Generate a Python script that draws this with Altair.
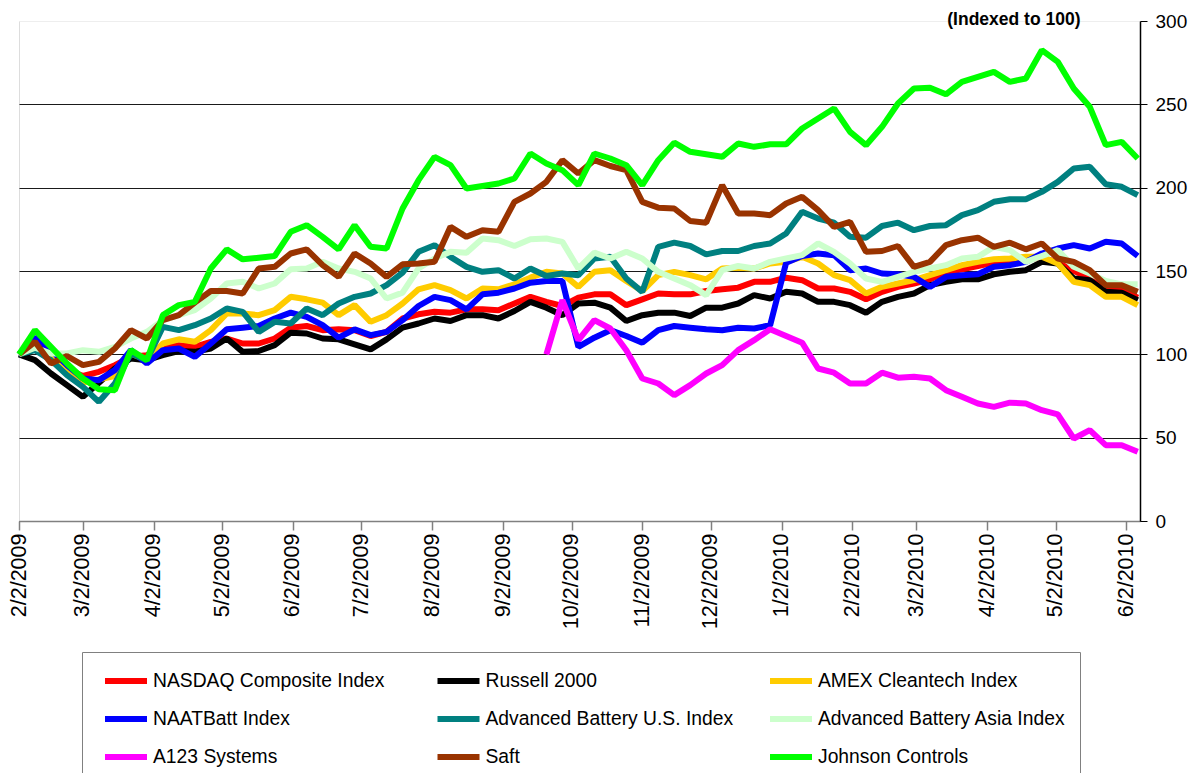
import altair as alt
import pandas as pd

START_DATE = "2009-02-02"
N_WEEKS = 71

SERIES = [
    "NASDAQ Composite Index", "Russell 2000", "AMEX Cleantech Index",
    "NAATBatt Index", "Advanced Battery U.S. Index", "Advanced Battery Asia Index",
    "A123 Systems", "Saft", "Johnson Controls",
]
COLORS = ["#FF0000", "#000000", "#FFCC00", "#0000FF", "#008080", "#CCFFCC",
          "#FF00FF", "#993300", "#00FF00"]

nasdaq = [100, 105, 98, 91, 87, 89.5, 93.5, 98.5, 99.5, 104.5, 105.5, 104.5, 107.5, 109.5, 106.5,
          106.5, 109.5, 116, 117, 114.5, 115, 114.5, 111, 113.5, 121.5, 124, 125.5, 125, 127, 127,
          126.5, 130.5, 134.5, 131.5, 129, 134, 136, 136, 129.5, 133, 136.5, 136, 136, 138, 139,
          140, 143.5, 143.5, 146, 144.5, 139.5, 139.5, 137.5, 133, 137.5, 140.5, 142.5, 145, 149,
          151, 153, 155, 156, 157, 158, 155, 150, 146, 139, 139, 134]
russell = [100, 96.5, 88.5, 81.5, 74.5, 83, 91.5, 97.5, 96.5, 99.5, 102, 101.5, 103.5, 109.5, 101.5,
           102, 105.5, 113, 112.5, 109.5, 109, 106, 103, 109, 116, 118.5, 121.5, 120, 123.5, 123.5,
           121.5, 126, 131.5, 128, 123.5, 130.5, 131, 128, 120, 123.5, 125, 125, 123, 128, 128,
           130.5, 135.5, 133.5, 137.5, 136.5, 131.5, 131.5, 129.5, 125, 131.5, 134.5, 136.5, 141.5,
           143.5, 145, 145, 148, 149.5, 150.5, 155.5, 154.5, 145.5, 144.5, 137.5, 137, 132.5]
amex = [100, 106, 98, 90, 83, 85, 87, 100.5, 96.5, 106.5, 109, 107.5, 114.5, 124.5, 124.5, 123.5,
        126.5, 134.5, 133, 131, 123.5, 129.5, 119.5, 123.5, 130.5, 139, 141.5, 138.5, 133.5, 139.5,
        139, 142, 146, 149.5, 148.5, 140.5, 149.5, 150.5, 144, 138, 147.5, 149.5, 147.5, 145, 151.5,
        152, 151.5, 154.5, 155.5, 158.5, 154.5, 147.5, 144.5, 136.5, 140.5, 142.5, 144.5, 147.5,
        150.5, 153.5, 155.5, 157, 157.5, 158.5, 158.5, 154.5, 143.5, 141.5, 134.5, 134.5, 129.5]
naatbatt = [100, 110, 102.5, 93.5, 85.5, 84.5, 90.5, 102.5, 94.5, 102.5, 103.5, 98.5, 106.5, 115,
            116, 117, 121.5, 125, 122.5, 117.5, 110, 115, 111.5, 113.5, 120.5, 129, 134.5, 132.5,
            127, 136, 137, 139.5, 143, 144, 144, 104.5, 110, 114.5, 111, 107, 114.5, 117, 116, 115,
            114.5, 116, 115.5, 117.5, 155, 159, 160.5, 159.5, 150.5, 151.5, 148.5, 148, 146.5, 140.5,
            146.5, 147.5, 148, 152.5, 153.5, 155.5, 160.5, 163.5, 165.5, 163.5, 167.5, 166.5, 159]
adv_us = [100, 102.5, 96.5, 87.5, 80.5, 71.5, 82.5, 100.5, 96.5, 116.5, 114.5, 117.5, 121.5, 127.5,
          125.5, 113.5, 119.5, 118.5, 127.5, 123.5, 130.5, 134.5, 136.5, 141.5, 149, 161.5, 165.5,
          158.5, 152.5, 149.5, 150.5, 145.5, 151.5, 147, 148.5, 147.5, 157.5, 158.5, 145.5, 137.5,
          164.5, 167, 165, 160, 162, 162, 165, 166.5, 172.5, 185.5, 181.5, 179, 170.5, 170, 177, 179,
          174.5, 177, 177.5, 183.5, 186.5, 191.5, 193, 193, 197.5, 203.5, 211.5, 212.5, 202, 200.5,
          195.5]
adv_asia = [100, 104, 100.5, 100.5, 102.5, 101.5, 104.5, 109.5, 113.5, 120.5, 123.5, 126.5, 133.5,
            142.5, 143.5, 139.5, 142.5, 151, 151.5, 155.5, 151.5, 149.5, 145.5, 133.5, 137, 151.5,
            157.5, 161.5, 161, 169.5, 168.5, 165, 169, 169.5, 167.5, 151.5, 161, 157.5, 161.5, 157.5,
            149.5, 145.5, 141.5, 135.5, 150.5, 153, 151.5, 155.5, 157.5, 159.5, 166.5, 161.5, 154.5,
            145.5, 143.5, 146.5, 149.5, 151.5, 153.5, 157.5, 158.5, 164.5, 162.5, 155.5, 159, 162.5,
            152.5, 148.5, 144, 142, 142]
a123 = [None] * 33 + [100, 132.5, 108.5, 120.5, 115.5, 102.5, 85.5, 82.5, 75.5, 81.5, 88.5, 93.5,
                      102.5, 108.5, 115, 111, 107, 91.5, 89, 82.5, 82.5, 89, 86, 86.5, 85.5, 78.5,
                      74.5, 70.5, 68.5, 71, 70.5, 66.5, 64, 49.5, 54.5, 45.5, 45.5, 41.5]
saft = [100, 107.5, 94.5, 99, 93.5, 95.5, 103.5, 114.5, 109.5, 120.5, 123.5, 131, 138, 138, 136.5,
        151.5, 152.5, 160.5, 163, 153.5, 146.5, 160.5, 154.5, 146.5, 154, 154.5, 155.5, 176.5, 170.5,
        174.5, 173.5, 191.5, 196.5, 203.5, 216.5, 208.5, 216.5, 213, 210.5, 191.5, 188, 187.5, 180,
        179, 201.5, 184.5, 184.5, 183.5, 190.5, 194.5, 186.5, 176.5, 179.5, 161.5, 162, 165, 152.5,
        155.5, 165.5, 168.5, 170, 164.5, 167, 163, 166.5, 157.5, 155.5, 150.5, 141.5, 141.5, 137.5]
johnson = [100, 114.5, 104.5, 94.5, 85.5, 79, 78.5, 102.5, 96.5, 123.5, 129.5, 131.5, 151.5, 163, 157,
           158, 159, 173.5, 177.5, 170.5, 163, 177.5, 164.5, 163.5, 187.5, 204.5, 218.5, 213.5, 199.5,
           201, 202.5, 205.5, 220.5, 214.5, 210.5, 201.5, 220.5, 217.5, 213.5, 201.5, 216.5, 227,
           221.5, 220, 218.5, 226.5, 224.5, 226, 226, 235.5, 241.5, 247.5, 233.5, 225.5, 236.5, 250.5,
           259.5, 260, 256, 263.5, 266.5, 269.5, 263.5, 265.5, 282.5, 275.5, 259.5, 248.5, 225.5,
           227.5, 217.5]

TICK_LABELS = ["2/2/2009", "3/2/2009", "4/2/2009", "5/2/2009", "6/2/2009", "7/2/2009",
               "8/2/2009", "9/2/2009", "10/2/2009", "11/2/2009", "12/2/2009", "1/2/2010",
               "2/2/2010", "3/2/2010", "4/2/2010", "5/2/2010", "6/2/2010"]
X_DOMAIN = ["2/2/2009", "6/8/2010"]
Y_TICKS = [0, 50, 100, 150, 200, 250, 300]
Y_TITLE = "(Indexed to 100)"

FONT = "Liberation Sans, Arial, Helvetica, sans-serif"

dates = pd.date_range(START_DATE, periods=N_WEEKS, freq="7D").strftime("%Y-%m-%d")
rows = []
for name, vals in zip(SERIES, [nasdaq, russell, amex, naatbatt, adv_us, adv_asia, a123, saft, johnson]):
    for d, v in zip(dates, vals):
        if v is not None:
            rows.append({"date": d, "series": name, "value": v})
df = pd.DataFrame(rows)


def to_dt(label):
    m, d, y = (int(p) for p in label.split("/"))
    return alt.DateTime(year=y, month=m, date=d, utc=True)


chart = alt.Chart(df).mark_line(strokeWidth=6, strokeJoin="bevel").encode(
    x=alt.X(
        "date:T",
        scale=alt.Scale(type="utc", domain=[to_dt(s) for s in X_DOMAIN]),
        axis=alt.Axis(
            values=[to_dt(s) for s in TICK_LABELS],
            labelExpr="utcFormat(datum.value, '%-m/%-d/%Y')",
            labelAngle=-90, labelAlign="right", labelBaseline="middle",
            labelFont=FONT, labelFontSize=21.5, labelColor="black",
            labelPadding=3, labelFlush=False, labelOverlap=False,
            tickSize=9, tickColor="#808080", tickWidth=1.5,
            domainColor="#808080", domainWidth=1.5, grid=False, title=None,
        ),
    ),
    y=alt.Y(
        "value:Q",
        scale=alt.Scale(domain=[0, 300], nice=False, zero=True),
        axis=alt.Axis(
            orient="right", values=Y_TICKS,
            labelFont=FONT, labelFontSize=19, labelColor="black", labelPadding=8,
            tickSize=7, tickColor="black", tickWidth=1, domainColor="black", domainWidth=1.5,
            grid=True, gridWidth=1,
            gridColor={"condition": {"test": "datum.value === 300", "value": "#eeeeee"}, "value": "#1a1a1a"},
            title=Y_TITLE, titleAngle=0, titleX=-60, titleY=3, titleAlign="right",
            titleBaseline="alphabetic", titleFont=FONT, titleFontSize=17.5,
            titleFontWeight="bold", titleColor="black",
        ),
    ),
    color=alt.Color(
        "series:N",
        scale=alt.Scale(domain=SERIES, range=COLORS),
        legend=alt.Legend(
            orient="none", legendX=63, legendY=631, columns=3, direction="horizontal",
            title=None, symbolType="M-0.5,0H3", symbolSize=576, symbolStrokeWidth=6,
            symbolOpacity=1, labelFont=FONT, labelFontSize=19.3, labelColor="black",
            labelOffset=27, labelLimit=400, columnPadding=24.5, rowPadding=11, padding=14,
            strokeColor="#808080", fillColor="white", gridAlign="all",
        ),
    ),
).properties(
    width=1121, height=500,
    padding={"left": 11, "top": 13, "right": 49, "bottom": 252},
    autosize=alt.AutoSizeParams(type="none"),
).configure_view(strokeWidth=0).configure(background="white")

chart.save("out.html", embed_options={"renderer": "svg", "actions": False})
